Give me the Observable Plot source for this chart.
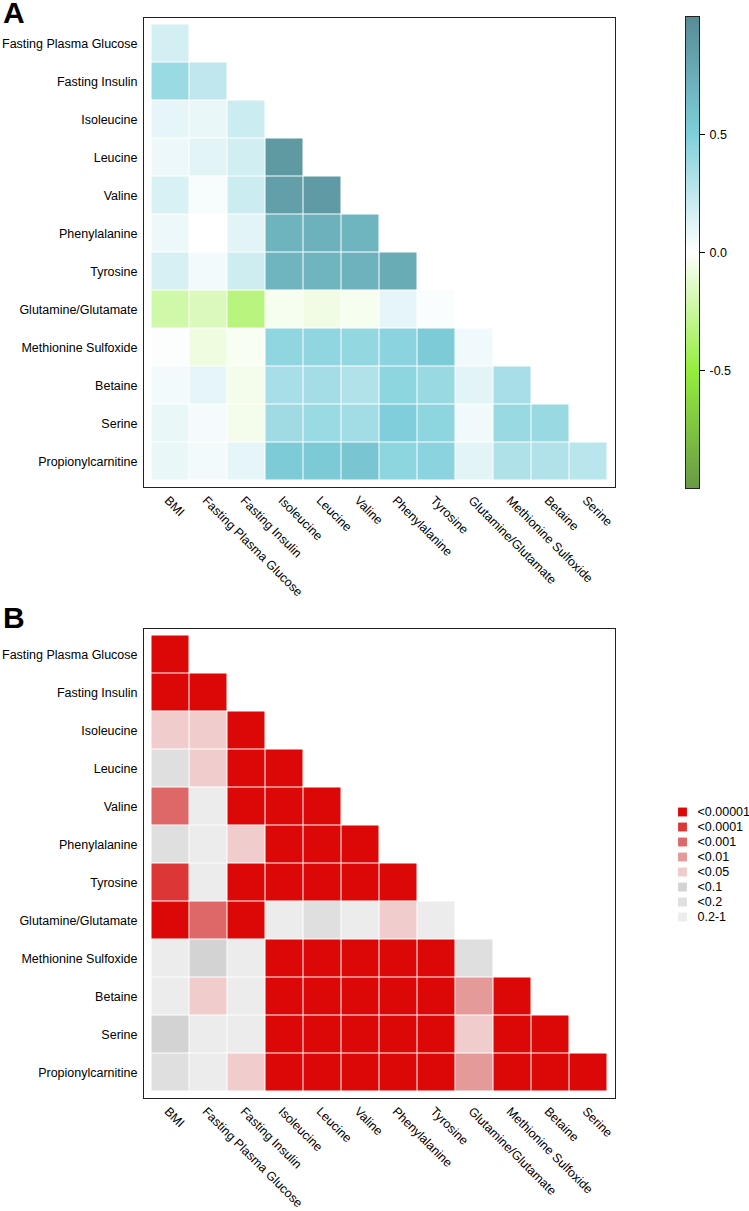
<!DOCTYPE html>
<html>
<head>
<meta charset="utf-8">
<script src="https://cdn.jsdelivr.net/npm/d3@7"></script>
<script src="https://cdn.jsdelivr.net/npm/@observablehq/plot@0.6"></script>
<style>
  body { margin: 0; background: #fff; }
  #page { position: relative; width: 749px; height: 1211px; font-family: Arial, "Liberation Sans", sans-serif; }
  .abs { position: absolute; }
  .panel-label { font-weight: bold; font-size: 30px; line-height: 26px; color: #000; }
</style>
</head>
<body>
<div id="page">
  <div id="plotA" class="abs" style="left:0;top:0"></div>
  <div id="barA" class="abs" style="left:684px;top:0"></div>
  <div class="abs panel-label" style="left:3px;top:0px">A</div>
  <div id="plotB" class="abs" style="left:0;top:611px"></div>
  <div id="legB" class="abs" style="left:677px;top:803px"></div>
  <div class="abs panel-label" style="left:3px;top:605px">B</div>
</div>
<script>
// ---------- data ----------
const rowLabels = ["Fasting Plasma Glucose","Fasting Insulin","Isoleucine","Leucine","Valine","Phenylalanine","Tyrosine","Glutamine/Glutamate","Methionine Sulfoxide","Betaine","Serine","Propionylcarnitine"];
const colLabels = ["BMI","Fasting Plasma Glucose","Fasting Insulin","Isoleucine","Leucine","Valine","Phenylalanine","Tyrosine","Glutamine/Glutamate","Methionine Sulfoxide","Betaine","Serine"];

// lower-triangle correlations (row i has columns 0..i)
const corrValues = [
  [0.17],
  [0.39, 0.25],
  [0.10, 0.08, 0.20],
  [0.07, 0.11, 0.18, 0.90],
  [0.15, 0.03, 0.20, 0.85, 0.88],
  [0.07, 0.00, 0.11, 0.70, 0.72, 0.69],
  [0.16, 0.05, 0.19, 0.69, 0.69, 0.71, 0.76],
  [-0.22, -0.17, -0.33, -0.04, -0.07, -0.04, 0.10, 0.02],
  [0.01, -0.08, -0.03, 0.43, 0.43, 0.42, 0.45, 0.53, 0.06],
  [0.05, 0.10, -0.05, 0.34, 0.35, 0.30, 0.44, 0.40, 0.11, 0.34],
  [0.08, 0.04, -0.05, 0.37, 0.39, 0.36, 0.50, 0.44, 0.06, 0.40, 0.40],
  [0.08, 0.05, 0.10, 0.53, 0.54, 0.57, 0.44, 0.45, 0.11, 0.31, 0.30, 0.27]
];

// p-value categories (index into pLevels)
const pLevels = ["<0.00001","<0.0001","<0.001","<0.01","<0.05","<0.1","<0.2","0.2-1"];
const pColors = ["#dc0707","#dc3636","#de6767","#e59a9a","#f1cccc","#d3d3d3","#dfdfdf","#ececec"];
const pValues = [
  [0],
  [0, 0],
  [4, 4, 0],
  [6, 4, 0, 0],
  [2, 7, 0, 0, 0],
  [6, 7, 4, 0, 0, 0],
  [1, 7, 0, 0, 0, 0, 0],
  [0, 2, 0, 7, 6, 7, 4, 7],
  [7, 5, 7, 0, 0, 0, 0, 0, 6],
  [7, 4, 7, 0, 0, 0, 0, 0, 3, 0],
  [5, 7, 7, 0, 0, 0, 0, 0, 4, 0, 0],
  [6, 7, 4, 0, 0, 0, 0, 0, 3, 0, 0, 0]
];

// colour ramp for correlation
const corrStops = [-1, -0.5, 0, 0.5, 1];
const corrColors = ["#699a45", "#94ee3c", "#ffffff", "#7ecfdb", "#578b94"];
const barTicks = [-0.5, 0, 0.5];

// ---------- build tables ----------
const corrData = corrValues.flatMap((r, i) => r.map((v, j) => ({row: rowLabels[i], col: colLabels[j], r: v})));
const pData = pValues.flatMap((r, i) => r.map((v, j) => ({row: rowLabels[i], col: colLabels[j], p: pLevels[v]})));

const FS = 12.5;
const font = {fontFamily: "Arial, 'Liberation Sans', sans-serif", fontSize: FS + "px", color: "#000", background: "transparent", overflow: "visible"};

function heat(data, fillKey, colorOpts) {
  return Plot.plot({
    width: 749,
    height: 611,
    marginLeft: 143,
    marginRight: 134,
    marginTop: 17,
    marginBottom: 124,
    style: font,
    x: {type: "band", domain: colLabels, padding: 0, inset: 8, label: null},
    y: {type: "band", domain: rowLabels, padding: 0, inset: 7, label: null},
    color: colorOpts,
    marks: [
      Plot.cell(data, {x: "col", y: "row", fill: fillKey, inset: 0.5}),
      Plot.frame({stroke: "#222", strokeWidth: 1}),
      Plot.axisY({tickSize: 0, tickPadding: 6, fontSize: FS}),
      Plot.axisX({tickSize: 0, tickPadding: 11, tickRotate: 45, dx: -4, fontSize: FS})
    ]
  });
}

document.getElementById("plotA").append(
  heat(corrData, "r", {type: "linear", domain: corrStops, range: corrColors, interpolate: "rgb"})
);
document.getElementById("plotB").append(
  heat(pData, "p", {type: "ordinal", domain: pLevels, range: pColors})
);

// colour bar (continuous gradient drawn as thin overlapping bands)
const barSteps = d3.range(-1, 1, 0.004).map(v => ({v0: v, v1: Math.min(1, v + 0.008), c: v + 0.002}));
document.getElementById("barA").append(Plot.plot({
  width: 64,
  height: 500,
  marginLeft: 1,
  marginRight: 49,
  marginTop: 16,
  marginBottom: 12,
  style: font,
  y: {domain: [-1, 1], label: null},
  color: {type: "linear", domain: corrStops, range: corrColors, interpolate: "rgb"},
  marks: [
    Plot.rect(barSteps, {y1: "v0", y2: "v1", fill: "c", shapeRendering: "crispEdges"}),
    Plot.frame({stroke: "#222", strokeWidth: 1}),
    Plot.axisY({anchor: "right", ticks: barTicks, tickSize: 5, tickPadding: 5, tickFormat: d => d.toFixed(1), fontSize: FS})
  ]
}));

// p-value legend
document.getElementById("legB").append(Plot.plot({
  width: 72,
  height: 122,
  marginLeft: 0,
  marginRight: 0,
  marginTop: 0,
  marginBottom: 0,
  style: font,
  y: {type: "band", domain: pLevels, padding: 0, axis: null},
  color: {type: "ordinal", domain: pLevels, range: pColors},
  marks: [
    Plot.dot(pLevels, {y: d => d, fill: d => d, symbol: "square", r: 5, frameAnchor: "left", dx: 5}),
    Plot.text(pLevels, {y: d => d, text: d => d, frameAnchor: "left", dx: 20, textAnchor: "start", fontSize: FS})
  ]
}));
</script>
</body>
</html>
